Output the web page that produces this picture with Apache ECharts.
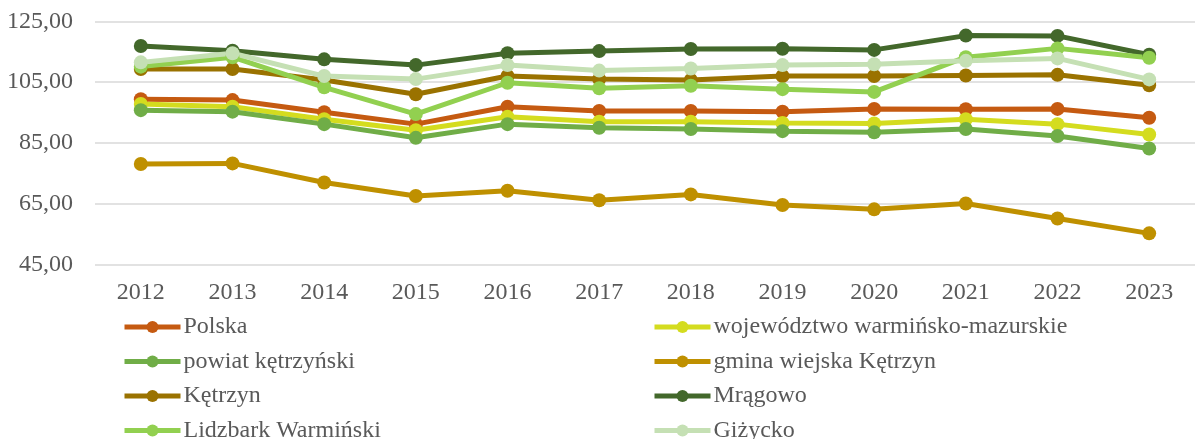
<!DOCTYPE html>
<html>
<head>
<meta charset="utf-8">
<script src="https://cdn.jsdelivr.net/npm/echarts@6/dist/echarts.min.js"></script>
<style>
html,body{margin:0;padding:0;background:#fff;}
#chart{width:1195px;height:439px;}
</style>
</head>
<body>
<div id="chart"></div>
<script>
const years = ['2012','2013','2014','2015','2016','2017','2018','2019','2020','2021','2022','2023'];
const yTicks = {min: 45, max: 125, interval: 20};

const polska      = [99.4, 99.1, 95.1, 91.2, 96.9, 95.5, 95.5, 95.3, 96.2, 96.1, 96.2, 93.3];
const wojewodztwo = [97.8, 96.9, 92.8, 89.2, 93.6, 92.0, 92.0, 91.6, 91.4, 92.8, 91.2, 87.8];
const powiat      = [95.8, 95.3, 91.2, 86.7, 91.2, 90.0, 89.6, 88.9, 88.5, 89.6, 87.3, 83.2];
const gmina       = [78.1, 78.3, 72.0, 67.6, 69.3, 66.2, 68.1, 64.6, 63.2, 65.1, 60.2, 55.3];
const ketrzyn     = [109.3, 109.3, 105.7, 101.0, 107.0, 106.0, 105.7, 107.0, 107.0, 107.2, 107.4, 104.0];
const mragowo     = [116.9, 115.3, 112.5, 110.6, 114.5, 115.2, 115.9, 116.0, 115.6, 120.3, 120.2, 114.0];
const lidzbark    = [110.1, 113.2, 103.3, 94.5, 104.8, 103.0, 103.8, 102.7, 101.8, 113.2, 116.1, 113.0];
const gizycko     = [111.5, 114.5, 107.0, 106.0, 110.6, 108.8, 109.5, 110.6, 110.9, 112.0, 112.8, 105.9];

const seriesNames = ['Polska', 'województwo warmińsko-mazurskie', 'powiat kętrzyński', 'gmina wiejska Kętrzyn',
                     'Kętrzyn', 'Mrągowo', 'Lidzbark Warmiński', 'Giżycko'];
const seriesData = [polska, wojewodztwo, powiat, gmina, ketrzyn, mragowo, lidzbark, gizycko];
const seriesColors = ['#C55A11', '#D4DC1F', '#70AD47', '#BF9000', '#9A7200', '#43682B', '#92D050', '#C5E0B4'];

const font = 'Liberation Serif';
const textColor = '#595959';

// legend laid out in two columns, row-major
const legendCols = [122, 652];
const legendRowTops = [315, 349.5, 384, 418.5];
const legends = seriesNames.map((name, i) => ({
  left: legendCols[i % 2],
  top: legendRowTops[Math.floor(i / 2)],
  padding: 0,
  itemWidth: 56,
  itemHeight: 15,
  data: [name],
  textStyle: {fontFamily: font, fontSize: 24, lineHeight: 20, color: textColor, padding: [0, 0, 0, -2]},
  lineStyle: {width: 5},
  itemStyle: {borderWidth: 0}
}));

const chart = echarts.init(document.getElementById('chart'));
chart.setOption({
  animation: false,
  grid: {left: 95, right: -14, top: 21.3, bottom: 174.3, containLabel: false},
  legend: legends,
  xAxis: {
    type: 'category',
    data: years,
    boundaryGap: true,
    axisLine: {show: false},
    axisTick: {show: false},
    axisLabel: {fontFamily: font, fontSize: 24, color: textColor, margin: 16}
  },
  yAxis: {
    type: 'value',
    min: yTicks.min, max: yTicks.max, interval: yTicks.interval,
    axisLine: {show: false},
    axisTick: {show: false},
    splitLine: {lineStyle: {color: '#D9D9D9', width: 1.5}},
    axisLabel: {fontFamily: font, fontSize: 24, color: textColor, margin: 22,
      formatter: v => v.toFixed(2).replace('.', ',')}
  },
  series: seriesNames.map((name, i) => ({
    name, type: 'line', data: seriesData[i],
    symbol: 'circle', symbolSize: 14,
    lineStyle: {color: seriesColors[i], width: 5},
    itemStyle: {color: seriesColors[i]},
    emphasis: {disabled: true}
  }))
});
</script>
</body>
</html>
